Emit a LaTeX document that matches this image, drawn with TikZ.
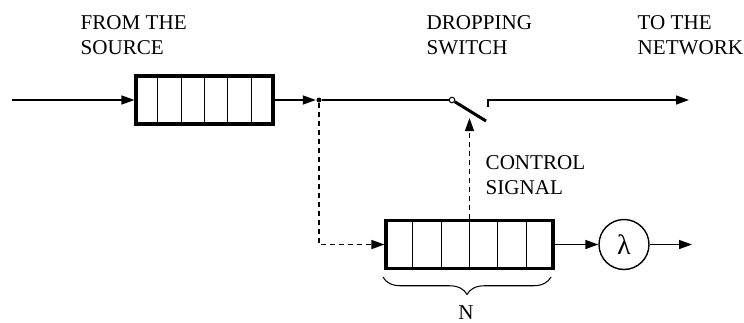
\documentclass[tikz,border=0pt]{standalone}
\usepackage{fontspec}
\setmainfont{Liberation Serif}
\newfontfamily\labelfont{Liberation Serif}
\usetikzlibrary{arrows.meta,positioning,calc,decorations.pathreplacing}

\begin{document}
\begin{tikzpicture}[
  x=0.02cm, y=-0.02cm,
  font=\labelfont\fontsize{12}{14.2}\selectfont,
  line width=0.8pt,
  queue/.style={draw, line width=1.8pt, minimum height=0.96cm, inner sep=0pt},
  server/.style={draw, circle, minimum size=1cm, inner sep=0pt},
  tag/.style={align=left, anchor=north west, inner sep=0pt},
  arr/.style={-{Triangle[length=2.6mm,width=1.8mm]}},
  dasharr/.style={arr, dash pattern=on 2.8pt off 2.3pt},
  blade/.style={line width=1.7pt}
]
\useasboundingbox (0,0) rectangle (744,322);

% ---------- labels ----------
\node[tag] (lsrc) at (80,15) {FROM THE\\SOURCE};
\node[tag] (lsw)  at (426,15) {DROPPING\\SWITCH};
\node[tag] (lnet) at (637,15) {TO THE\\NETWORK};
\node[tag] (lctl) at (485,155) {CONTROL\\SIGNAL};

% ---------- source queue ----------
\coordinate (src) at (12,100);
\node[queue, minimum width=2.74cm] (q1) at (204.5,100) {};
\foreach \i in {1,...,5}
  \draw[line width=0.6pt] ($(q1.north west)!\i/6!(q1.north east)$) -- ($(q1.south west)!\i/6!(q1.south east)$);
\draw[arr] (src) -- (q1.west);

% ---------- dropping switch ----------
\node[circle, fill, inner sep=0pt, minimum size=0.1cm] (dot) at (319,100) {};
\node[circle, draw, fill=white, inner sep=0pt, minimum size=0.11cm, line width=0.6pt] (piv) at (452,100) {};
\coordinate (bl) at (486,121);
\coordinate (tick) at (488,107);
\coordinate (net) at (689,100);
\draw[arr] (q1.east) -- (dot);
\draw (dot) -- (piv);
\draw[blade] (piv) -- (bl);
\draw[arr] (tick) |- (net);

% ---------- control queue ----------
\node[queue, minimum width=3.34cm] (q2) at (469.5,244.5) {};
\foreach \i in {1,...,5}
  \draw[line width=0.6pt] ($(q2.north west)!\i/6!(q2.north east)$) -- ($(q2.south west)!\i/6!(q2.south east)$);
\coordinate (ctl) at (469.5,118);
\draw[dasharr] (dot) |- (q2.west);
\draw[dasharr] (q2.north) -- (ctl);

% ---------- server ----------
\node[server] (srv) at (624,244.5) {\fontsize{16}{16}\selectfont λ};
\coordinate (sink) at (692,244.5);
\draw[arr] (q2.east) -- (srv);
\draw[arr] (srv) -- (sink);

% ---------- brace ----------
\draw[line width=0.6pt, decorate, decoration={brace, mirror, amplitude=0.35cm}] (383,277) -- (551,277);
\node[anchor=south, inner sep=0pt] (nlab) at (466,320) {N};

\end{tikzpicture}
\end{document}
